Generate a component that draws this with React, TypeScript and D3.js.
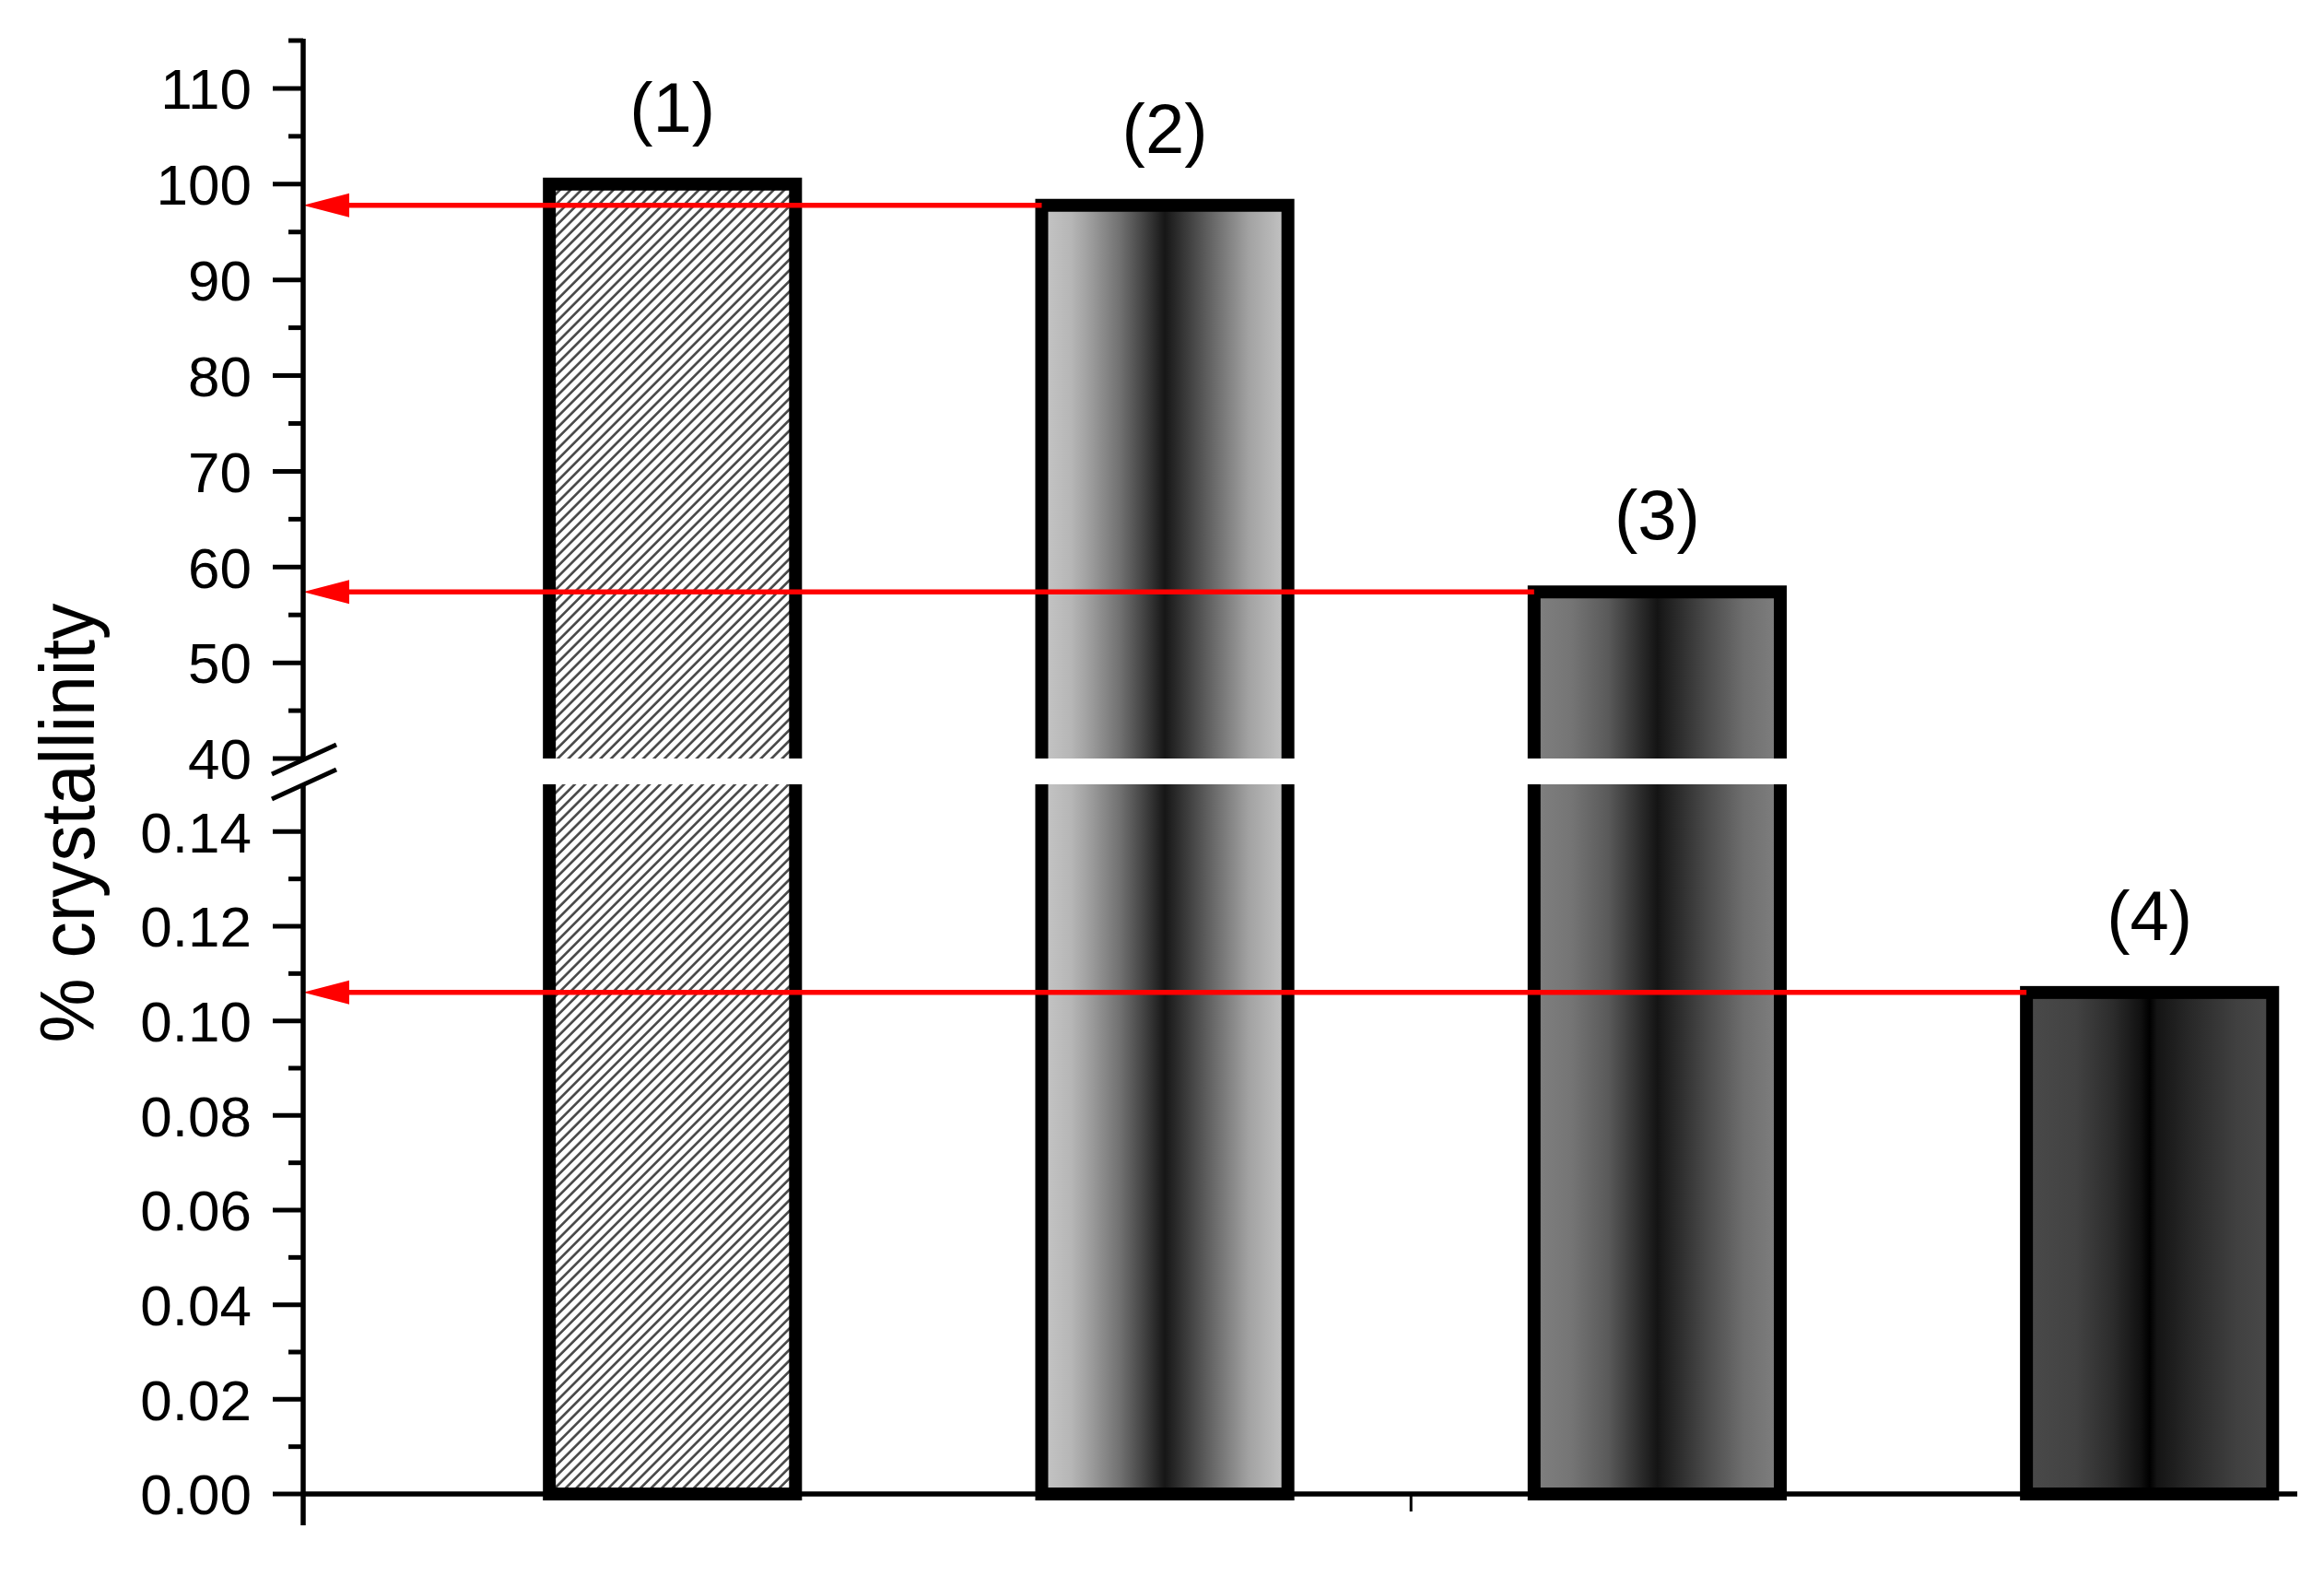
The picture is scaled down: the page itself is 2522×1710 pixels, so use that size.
import React from "react";
import * as d3 from "d3";

// ---------- data ----------
const categories = ["(1)", "(2)", "(3)", "(4)"];
const positions = [1, 2, 3, 4];
const values = [100, 97.8, 57.4, 0.106];
const fillIds = ["hatch", "grad2", "grad3", "grad4"];
const arrowFrom = [1, 2, 3]; // indices of bars whose top level is projected to the axis

const upperMajor = [40, 50, 60, 70, 80, 90, 100, 110];
const upperMinor = [45, 55, 65, 75, 85, 95, 105, 115];
const lowerMajor = [0, 0.02, 0.04, 0.06, 0.08, 0.1, 0.12, 0.14];
const lowerMinor = [0.01, 0.03, 0.05, 0.07, 0.09, 0.11, 0.13];
const xTicks = [2.5];

const yTitle = "% crystallinity";

const gradients: { id: string; stops: [number, string][] }[] = [
  {
    id: "grad2",
    stops: [
      [0, "#c6c6c6"], [0.12, "#b6b6b6"], [0.2, "#9c9c9c"], [0.32, "#707070"],
      [0.42, "#404040"], [0.5, "#161616"], [0.58, "#383838"], [0.7, "#6a6a6a"],
      [0.84, "#a2a2a2"], [1, "#c6c6c6"],
    ],
  },
  {
    id: "grad3",
    stops: [
      [0, "#808080"], [0.15, "#757575"], [0.3, "#5a5a5a"], [0.42, "#303030"],
      [0.5, "#141414"], [0.58, "#2a2a2a"], [0.7, "#4a4a4a"], [0.85, "#6e6e6e"],
      [1, "#808080"],
    ],
  },
  {
    id: "grad4",
    stops: [
      [0, "#4a4a4a"], [0.2, "#424242"], [0.35, "#2c2c2c"], [0.46, "#121212"],
      [0.5, "#000000"], [0.53, "#141414"], [0.65, "#262626"], [0.85, "#404040"],
      [1, "#4a4a4a"],
    ],
  },
];

// ---------- layout ----------
const W = 2522;
const H = 1710;
const AX = 329; // y-axis x position
const FONT = "'Liberation Sans', Arial, Helvetica, sans-serif";

const x = d3.scaleLinear().domain([0.25, 4.3]).range([AX, 2493]);
const BREAK_LO = 40;
const BREAK_HI = 0.15;
const yUp = d3.scaleLinear().domain([BREAK_LO, 115]).range([823, 44]);
const yLo = d3.scaleLinear().domain([0, BREAK_HI]).range([1621, 851]);
const yv = (v: number) => (v > BREAK_HI ? yUp(v) : yLo(v));

const BAR_HALF = 0.25;
const fmtUp = d3.format("d");
const fmtLo = d3.format(".2f");

export default function App() {
  const barStroke = 14;
  const HS = 8.2; // hatch spacing
  return (
    <div style={{ position: "absolute", left: 0, top: 0 }}>
      <svg width={W} height={H} viewBox={`0 0 ${W} ${H}`} style={{ display: "block", background: "#fff" }}>
        <defs>
          <pattern id="hatch" patternUnits="userSpaceOnUse" width={HS} height={HS} patternTransform="rotate(45)">
            <rect width={HS} height={HS} fill="#fff" />
            <line x1={1.4} y1={-1} x2={1.4} y2={HS + 1} stroke="#454545" strokeWidth={2.6} />
          </pattern>
          {gradients.map((g) => (
            <linearGradient key={g.id} id={g.id} x1="0" y1="0" x2="1" y2="0">
              {g.stops.map(([o, c], i) => (
                <stop key={i} offset={o} stopColor={c} />
              ))}
            </linearGradient>
          ))}
        </defs>

        {/* bars */}
        {values.map((v, i) => {
          const x0 = x(positions[i] - BAR_HALF);
          const x1 = x(positions[i] + BAR_HALF);
          const fill = `url(#${fillIds[i]})`;
          if (v > BREAK_HI) {
            const top = yUp(v);
            const upBot = yUp(BREAK_LO);
            const loTop = yLo(BREAK_HI);
            const loBot = yLo(0);
            return (
              <g key={i}>
                <rect x={x0} y={top} width={x1 - x0} height={upBot - top} fill={fill} />
                <path d={`M${x0},${upBot}V${top}H${x1}V${upBot}`} fill="none" stroke="#000" strokeWidth={barStroke} strokeLinejoin="miter" />
                <rect x={x0} y={loTop} width={x1 - x0} height={loBot - loTop} fill={fill} />
                <path d={`M${x0},${loTop}V${loBot}H${x1}V${loTop}`} fill="none" stroke="#000" strokeWidth={barStroke} />
              </g>
            );
          }
          const top = yLo(v);
          const bot = yLo(0);
          return (
            <rect key={i} x={x0} y={top} width={x1 - x0} height={bot - top} fill={fill} stroke="#000" strokeWidth={barStroke} />
          );
        })}

        {/* red projection arrows */}
        {arrowFrom.map((bi) => {
          const yy = yv(values[bi]);
          const xEnd = x(positions[bi] - BAR_HALF);
          const tip = AX;
          return (
            <g key={bi}>
              <line x1={tip + 30} y1={yy} x2={xEnd} y2={yy} stroke="#ff0000" strokeWidth={5.5} />
              <path d={`M${tip},${yy}L${tip + 50},${yy - 13}L${tip + 50},${yy + 13}Z`} fill="#ff0000" />
            </g>
          );
        })}

        {/* bar labels */}
        {values.map((v, i) => (
          <text key={i} x={x(positions[i])} y={yv(v) - 57} textAnchor="middle" fontFamily={FONT} fontSize={76} fill="#000">
            {categories[i]}
          </text>
        ))}

        {/* y axis (upper segment) */}
        <line x1={AX} y1={yUp(115) - 2} x2={AX} y2={yUp(BREAK_LO)} stroke="#000" strokeWidth={5.5} />
        {/* y axis (lower segment) */}
        <line x1={AX} y1={yLo(BREAK_HI)} x2={AX} y2={yLo(0) + 34} stroke="#000" strokeWidth={5.5} />
        {/* break marks */}
        {[yUp(BREAK_LO) + 1, yLo(BREAK_HI)].map((c, i) => (
          <line key={i} x1={AX - 34} y1={c + 16} x2={AX + 36} y2={c - 16} stroke="#000" strokeWidth={5} />
        ))}

        {upperMajor.map((t) => (
          <g key={`um${t}`}>
            <line x1={AX - 33} y1={yUp(t)} x2={AX} y2={yUp(t)} stroke="#000" strokeWidth={5} />
            <text x={273} y={yUp(t)} dy="0.36em" textAnchor="end" fontFamily={FONT} fontSize={62} fill="#000">
              {fmtUp(t)}
            </text>
          </g>
        ))}
        {upperMinor.map((t) => (
          <line key={`un${t}`} x1={AX - 16} y1={yUp(t)} x2={AX} y2={yUp(t)} stroke="#000" strokeWidth={5} />
        ))}
        {lowerMajor.map((t) => (
          <g key={`lm${t}`}>
            <line x1={AX - 33} y1={yLo(t)} x2={AX} y2={yLo(t)} stroke="#000" strokeWidth={5} />
            <text x={273} y={yLo(t)} dy="0.36em" textAnchor="end" fontFamily={FONT} fontSize={62} fill="#000">
              {fmtLo(t)}
            </text>
          </g>
        ))}
        {lowerMinor.map((t) => (
          <line key={`ln${t}`} x1={AX - 16} y1={yLo(t)} x2={AX} y2={yLo(t)} stroke="#000" strokeWidth={5} />
        ))}

        {/* x axis */}
        <line x1={AX} y1={yLo(0)} x2={x(4.3)} y2={yLo(0)} stroke="#000" strokeWidth={5.5} />
        {xTicks.map((t) => (
          <line key={t} x1={x(t)} y1={yLo(0)} x2={x(t)} y2={yLo(0) + 19} stroke="#000" strokeWidth={3} />
        ))}

        {/* y title */}
        <text
          transform={`translate(102, 893) rotate(-90)`}
          textAnchor="middle"
          fontFamily={FONT}
          fontSize={84}
          textLength={477}
          lengthAdjust="spacingAndGlyphs"
          fill="#000"
        >
          {yTitle}
        </text>
      </svg>
    </div>
  );
}
